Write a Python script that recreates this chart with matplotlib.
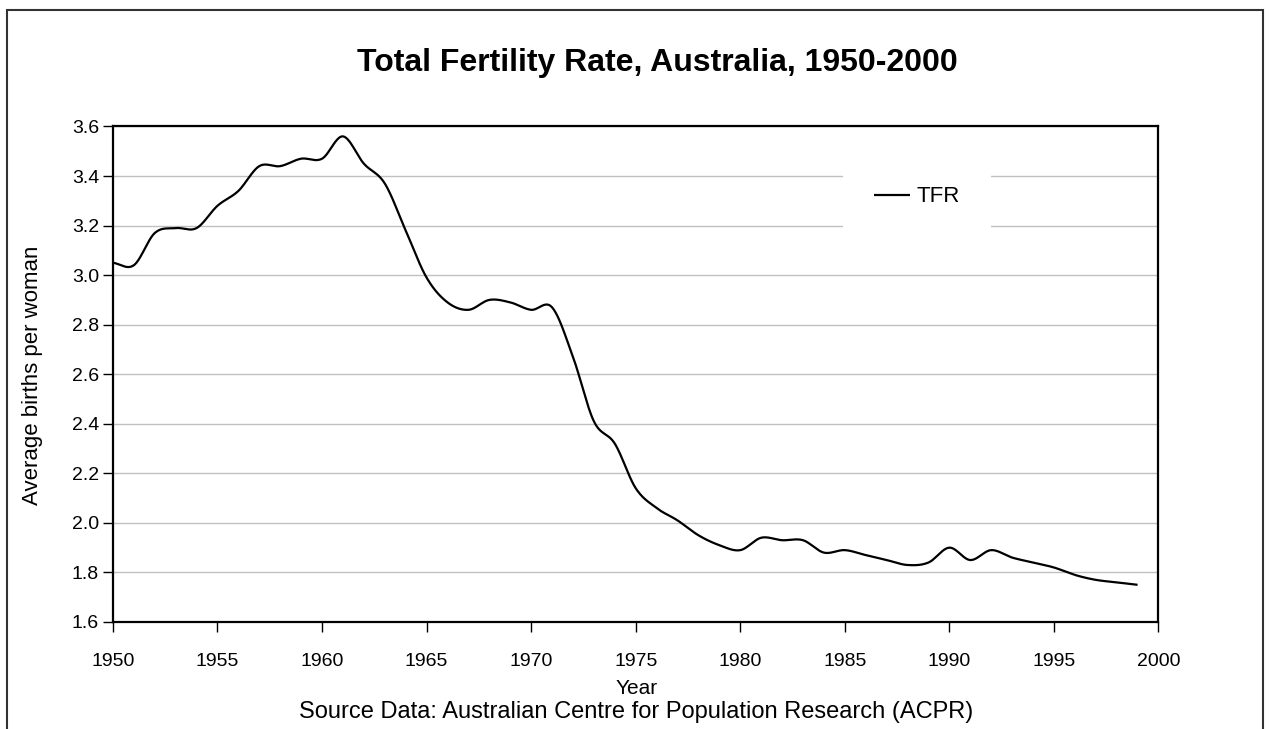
import numpy as np
import matplotlib
matplotlib.use("Agg")
import matplotlib.pyplot as plt
from matplotlib.patches import Rectangle

plt.rcParams['font.family'] = ['Liberation Sans', 'DejaVu Sans']

# Data (TFR per year)
years = list(range(1950, 2000))
tfr = [3.05, 3.04, 3.17, 3.19, 3.19, 3.28, 3.34, 3.44, 3.44, 3.47,
       3.47, 3.56, 3.45, 3.37, 3.18, 2.99, 2.89, 2.86, 2.90, 2.89,
       2.86, 2.87, 2.67, 2.41, 2.32, 2.14, 2.06, 2.01, 1.95, 1.91,
       1.89, 1.94, 1.93, 1.93, 1.88, 1.89, 1.87, 1.85, 1.83, 1.84,
       1.90, 1.85, 1.89, 1.86, 1.84, 1.82, 1.79, 1.77, 1.76, 1.75]
x_ticks = list(range(1950, 2001, 5))
y_ticks = [1.6, 1.8, 2.0, 2.2, 2.4, 2.6, 2.8, 3.0, 3.2, 3.4, 3.6]


def smooth(x, y, n=24):
    # Catmull-Rom spline, like Excel's "smoothed line"
    x = np.asarray(x, float)
    y = np.asarray(y, float)
    px = np.concatenate([[2 * x[0] - x[1]], x, [2 * x[-1] - x[-2]]])
    py = np.concatenate([[2 * y[0] - y[1]], y, [2 * y[-1] - y[-2]]])
    xs, ys = [], []
    t = np.linspace(0, 1, n, endpoint=False)
    for i in range(1, len(px) - 2):
        for p, out in ((px, xs), (py, ys)):
            p0, p1, p2, p3 = p[i - 1], p[i], p[i + 1], p[i + 2]
            out.extend(0.5 * ((2 * p1) + (-p0 + p2) * t
                              + (2 * p0 - 5 * p1 + 4 * p2 - p3) * t ** 2
                              + (-p0 + 3 * p1 - 3 * p2 + p3) * t ** 3))
    xs.append(x[-1])
    ys.append(y[-1])
    return np.array(xs), np.array(ys)


fig = plt.figure(figsize=(12.69, 7.29), dpi=100)
ax = fig.add_axes([0.089, 0.1468, 0.8239, 0.6797])

sx, sy = smooth(years, tfr)
ax.plot(sx, sy, color='black', lw=1.6, label='TFR', solid_capstyle='butt')

ax.set_xlim(1950, 2000)
ax.set_ylim(1.6, 3.6)
ax.set_xticks(x_ticks)
ax.set_yticks(y_ticks)
ax.set_yticklabels([f"{v:.1f}" for v in y_ticks])
ax.tick_params(direction='out', length=7, width=1, labelsize=14)
ax.tick_params(axis='x', pad=15)
ax.tick_params(axis='y', pad=3)
ax.grid(axis='y', color='#c0c0c0', lw=1)
ax.set_axisbelow(True)
for s in ax.spines.values():
    s.set_linewidth(1.6)
    s.set_color('black')

fig.text(33 / 1269, 1 - 375 / 729, 'Average births per woman', rotation=90,
         ha='center', va='center', fontsize=16)
fig.text(637 / 1269, 1 - 688 / 729, 'Year', ha='center', va='center', fontsize=15)

leg = ax.legend(loc='center', bbox_to_anchor=(0.769, 0.858), fontsize=16,
                frameon=True, fancybox=False, borderpad=1.4,
                handlelength=1.6, handletextpad=0.3)
leg.get_frame().set_facecolor('white')
leg.get_frame().set_edgecolor('none')
leg.get_frame().set_alpha(1)

fig.text(0.518, 0.9136, 'Total Fertility Rate, Australia, 1950-2000',
         ha='center', va='center', fontsize=23, fontweight='bold')
fig.text(636 / 1269, 1 - 712 / 729,
         'Source Data: Australian Centre for Population Research (ACPR)',
         ha='center', va='center', fontsize=17)

# outer chart border (bottom edge cut off)
fig.patches.append(Rectangle((7 / 1269, -0.1), 1256 / 1269, 1.1 - 10 / 729,
                             transform=fig.transFigure, fill=False,
                             edgecolor='#333333', lw=1.5))

plt.savefig('out.png', dpi=100)
